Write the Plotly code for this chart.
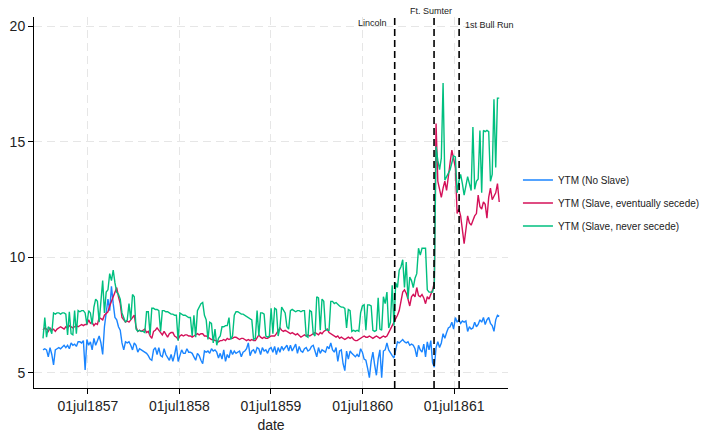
import pandas as pd
import plotly.graph_objects as go

# Weekly yields to maturity, Jan 1857 - Dec 1861
start_date = "1857-01-03"

ytm_no_slave = [
    6.0, 6.05, 6.0, 5.7, 6.1, 5.8, 5.35, 6.0, 6.05, 6.1,
    6.05, 6.15, 6.2, 6.1, 6.2, 6.05, 6.3, 6.2, 6.25, 6.15,
    6.35, 6.35, 6.3, 6.4, 5.13, 6.45, 6.2, 6.35, 6.0, 6.5,
    6.2, 6.4, 6.6, 6.3, 5.8, 7.0, 7.7, 8.2, 7.7, 8.75,
    8.0, 7.4, 7.3, 7.0, 6.85, 6.3, 6.0, 6.35, 6.3, 6.35,
    6.2, 6.0, 6.3, 6.2, 5.9, 6.05, 6.0, 5.95, 5.9, 5.85,
    5.75, 5.6, 5.55, 6.0, 6.1, 5.8, 6.1, 5.75, 5.7, 6.05,
    5.8, 5.7, 5.55, 5.8, 5.5, 5.8, 6.2, 5.5, 5.8, 6.0,
    5.85, 5.85, 6.05, 5.9, 5.9, 5.85, 5.7, 5.55, 5.85, 5.75,
    5.55, 5.4, 5.95, 5.9, 5.95, 5.85, 6.05, 5.95, 6.0, 5.9,
    5.65, 5.85, 5.6, 6.0, 5.5, 5.8, 5.65, 6.0, 5.8, 5.95,
    5.85, 5.9, 5.95, 5.7, 5.9, 5.95, 6.05, 6.3, 5.75, 5.95,
    6.0, 5.85, 6.1, 6.05, 5.8, 6.1, 5.95, 6.0, 5.85, 6.05,
    6.1, 5.9, 6.15, 5.8, 6.1, 5.9, 6.15, 6.0, 6.1, 6.2,
    5.95, 6.2, 5.95, 6.1, 6.25, 5.85, 6.15, 5.95, 5.9, 6.05,
    6.1, 5.95, 6.0, 6.15, 6.2, 5.95, 5.7, 6.1, 5.85, 6.0,
    5.95, 5.9, 6.15, 6.05, 6.3, 6.0, 5.9, 6.1, 5.5, 5.95,
    6.0, 5.4, 5.1, 5.95, 5.6, 5.95, 5.85, 5.75, 5.7, 5.8,
    5.7, 6.05, 5.9, 5.6, 5.55, 5.2, 4.8, 5.5, 5.9, 5.35,
    4.9, 5.6, 6.0, 4.8, 5.95, 6.0, 6.3, 6.0, 5.85, 5.75,
    5.65, 6.0, 6.35, 6.3, 6.4, 6.45, 6.35, 6.3, 6.35, 6.2,
    6.25, 6.2, 6.05, 5.7, 6.2, 6.0, 5.9, 6.25, 5.7, 6.35,
    6.0, 6.4, 5.45, 5.25, 6.1, 6.35, 6.1, 6.3, 6.7, 6.5,
    6.75, 6.95, 7.0, 7.2, 6.9, 7.4, 7.2, 7.3, 7.15, 7.25,
    7.2, 7.25, 6.8, 7.0, 6.9, 6.95, 7.2, 7.0, 7.1, 7.3,
    7.2, 7.4, 7.1, 7.3, 7.4, 7.15, 7.05, 6.8, 7.3, 7.5,
    7.45,
]

ytm_slave_secede = [
    6.85, 6.95, 6.9, 6.8, 6.95, 6.85, 6.9, 6.8, 6.9, 6.95,
    7.0, 6.95, 6.9, 7.0, 6.95, 7.05, 7.0, 6.95, 7.0, 7.05,
    7.0, 7.05, 7.1, 7.05, 7.1, 7.1, 7.3, 7.15, 7.2, 7.05,
    7.15, 7.1, 7.4, 7.35, 7.3, 7.5, 7.6, 7.65, 7.9, 8.15,
    8.3, 8.5, 8.7, 8.3, 8.0, 7.4, 7.3, 7.2, 7.25, 7.2,
    7.3, 7.4, 7.5, 7.0, 6.8, 6.85, 6.8, 6.85, 6.9, 6.75,
    6.8, 6.6, 6.5, 6.8, 6.85, 6.95, 6.85, 6.75, 6.65, 6.8,
    6.7, 6.55, 6.7, 6.75, 6.75, 6.6, 6.55, 6.45, 6.6, 6.65,
    6.6, 6.65, 6.65, 6.6, 6.6, 6.55, 6.6, 6.65, 6.7, 6.65,
    6.7, 6.7, 6.6, 6.6, 6.55, 6.5, 6.45, 6.45, 6.4, 6.4,
    6.35, 6.4, 6.4, 6.45, 6.4, 6.5, 6.45, 6.5, 6.5, 6.55,
    6.55, 6.5, 6.45, 6.5, 6.5, 6.45, 6.4, 6.45, 6.4, 6.45,
    6.4, 6.4, 6.55, 6.65, 6.55, 6.5, 6.55, 6.5, 6.5, 6.55,
    6.6, 6.6, 6.6, 6.7, 6.8, 6.95, 6.85, 6.8, 6.85, 6.8,
    6.75, 6.7, 6.75, 6.7, 6.65, 6.7, 6.6, 6.55, 6.6, 6.65,
    6.6, 6.65, 6.6, 6.65, 6.7, 6.75, 6.7, 6.65, 6.75, 6.7,
    6.8, 6.85, 6.9, 6.75, 6.7, 6.65, 6.6, 6.55, 6.6, 6.5,
    6.55, 6.5, 6.45, 6.5, 6.55, 6.5, 6.55, 6.45, 6.4, 6.4,
    6.45, 6.5, 6.55, 6.6, 6.55, 6.55, 6.6, 6.55, 6.5, 6.55,
    6.6, 6.55, 6.5, 6.55, 6.6, 6.55, 6.6, 6.75, 6.9, 7.0,
    7.15, 7.3, 7.5, 7.7, 8.1, 8.5, 8.6, 8.45, 8.2, 7.9,
    8.3, 8.4, 8.3, 8.7, 8.35, 8.3, 8.4, 8.25, 8.0, 8.3,
    8.2, 8.4, 8.6, 8.9, 15.8, 13.3, 13.0, 12.6, 13.0, 13.3,
    12.9, 13.6, 14.1, 14.65, 14.3, 13.9, 11.9, 12.1, 11.8, 11.3,
    10.6, 11.2, 11.8, 11.5, 11.4, 11.6, 11.8, 11.9, 12.7, 12.2,
    12.1, 12.4, 12.3, 11.7, 12.6, 13.0, 12.5, 12.65, 12.8, 13.2,
    12.4,
]

ytm_slave_never = [
    6.5, 7.4, 6.55, 7.0, 6.9, 6.7, 7.6, 7.55, 7.6, 7.6,
    7.55, 7.6, 7.6, 7.55, 6.65, 7.65, 6.7, 6.65, 7.7, 6.7,
    7.7, 7.65, 7.7, 7.7, 7.6, 7.1, 7.7, 7.6, 7.1, 7.85,
    8.2, 8.1, 7.2, 8.3, 9.0, 7.6, 8.5, 8.6, 9.3, 9.0,
    9.45, 8.9, 8.5, 8.4, 8.2, 7.6, 7.4, 7.2, 7.3, 8.0,
    7.3, 8.4, 8.3, 6.9, 6.8, 6.85, 6.8, 6.8, 6.75, 7.65,
    7.65, 6.65, 7.8, 7.8, 7.75, 7.75, 7.7, 6.8, 7.7, 7.7,
    7.65, 7.65, 7.6, 7.55, 7.55, 7.5, 7.5, 6.4, 7.6, 7.55,
    7.5, 7.5, 7.45, 7.4, 7.4, 6.6, 7.5, 6.55, 7.7, 7.85,
    8.0, 8.05, 7.5, 7.3, 6.45, 7.2, 7.15, 6.3, 6.9, 6.2,
    6.5, 6.6, 7.0, 7.0, 7.05, 7.05, 7.4, 6.45, 6.6, 7.5,
    7.65, 7.65, 7.6, 7.55, 7.55, 7.5, 7.45, 7.4, 7.35, 7.3,
    6.45, 6.5, 7.7, 6.6, 7.6, 7.6, 7.55, 6.6, 6.55, 6.6,
    7.8, 6.7, 7.8, 7.75, 6.6, 6.95, 7.85, 7.7, 7.6, 7.0,
    6.9, 7.7, 7.75, 7.7, 7.65, 7.7, 7.7, 7.65, 7.7, 7.7,
    6.6, 6.55, 7.7, 7.65, 6.7, 6.6, 8.3, 8.25, 6.85, 8.2,
    8.1, 6.9, 6.85, 6.85, 8.1, 8.1, 8.0, 8.05, 7.95, 7.9,
    7.85, 7.85, 7.8, 6.95, 7.75, 7.7, 6.8, 6.85, 6.8, 6.85,
    6.8, 7.6, 7.9, 7.95, 6.85, 7.95, 7.95, 7.9, 6.85, 6.8,
    6.85, 8.25, 6.9, 6.85, 8.3, 8.0, 8.5, 6.95, 7.2, 8.8,
    7.05, 8.9, 8.7, 9.45, 9.6, 9.9, 8.7, 9.8, 8.2, 9.15,
    9.0, 8.7, 9.1, 9.3, 10.4, 10.1, 10.4, 10.4, 10.4, 8.6,
    8.5, 8.5, 8.5, 8.8, 14.8, 14.2, 13.8, 14.3, 17.55, 13.35,
    13.5, 13.7, 13.8, 14.1, 14.4, 14.35, 12.8, 13.3, 13.6, 13.2,
    12.7, 13.1, 13.5, 13.2, 12.9, 15.65, 12.95, 13.3, 13.4, 15.5,
    12.8, 15.5, 15.45, 15.5, 15.45, 13.3, 13.6, 16.85, 13.9, 16.9,
    16.9,
]

series_names = [
    "YTM (No Slave)",
    "YTM (Slave, eventually secede)",
    "YTM (Slave, never secede)",
]
series_colors = ["#1a85ff", "#d41159", "#00bf7f"]

# Marked events
event_dates = ["1860-11-06", "1861-04-12", "1861-07-21"]
event_labels = ["Lincoln", "Ft. Sumter", "1st Bull Run"]

x_tick_dates = ["1857-07-01", "1858-07-01", "1859-07-01", "1860-07-01", "1861-07-01"]
x_tick_text = ["01jul1857", "01jul1858", "01jul1859", "01jul1860", "01jul1861"]
y_tick_vals = [5, 10, 15, 20]

dates = pd.date_range(start_date, periods=len(ytm_no_slave), freq="7D")

FONT = "Liberation Sans, Arial, Helvetica, sans-serif"

fig = go.Figure()
for name, color, vals in zip(series_names, series_colors,
                             [ytm_no_slave, ytm_slave_secede, ytm_slave_never]):
    fig.add_trace(go.Scatter(
        x=dates, y=vals, mode="lines", name=name, legendgroup=name,
        line=dict(color=color, width=1.4),
    ))

# Dashed vertical event lines with their labels
label_pos = [
    dict(xanchor="right", xshift=-6, y=0.984),
    dict(xanchor="center", xshift=-3, y=1.017),
    dict(xanchor="left", xshift=4, y=0.979),
]
for d, lab, pos in zip(event_dates, event_labels, label_pos):
    fig.add_shape(type="line", x0=d, x1=d, xref="x", y0=0, y1=1, yref="paper",
                  line=dict(color="black", width=1.6, dash="7px,4px"))
    fig.add_annotation(x=d, xref="x", y=pos["y"], yref="paper", text=lab,
                       showarrow=False, xanchor=pos["xanchor"], yanchor="middle",
                       xshift=pos["xshift"],
                       font=dict(family=FONT, size=9, color="#222222"))

fig.update_layout(
    width=702, height=433,
    margin=dict(l=34, r=194, t=17, b=45, autoexpand=False),
    plot_bgcolor="white", paper_bgcolor="white",
    font=dict(family=FONT, color="#222222"),
    showlegend=True,
    legend=dict(x=1.021, y=0.4987, xanchor="left", yanchor="middle",
                font=dict(family=FONT, size=10, color="#222222"),
                tracegroupgap=4, bgcolor="rgba(0,0,0,0)"),
)
fig.update_xaxes(
    range=["1856-11-28", "1862-02-01"],
    tickvals=x_tick_dates, ticktext=x_tick_text,
    tickfont=dict(size=14, color="#222222"),
    ticks="outside", ticklen=5, tickcolor="black",
    showline=True, linecolor="black", linewidth=1,
    showgrid=True, gridcolor="#e6e6e6", gridwidth=1, griddash="8px,5px",
    zeroline=False, automargin=False,
    title=dict(text="date", font=dict(size=14, color="#222222"), standoff=8),
)
fig.update_yaxes(
    range=[4.35, 20.41],
    tickvals=y_tick_vals,
    tickfont=dict(size=14, color="#222222"),
    ticks="outside", ticklen=5, tickcolor="black",
    showline=True, linecolor="black", linewidth=1,
    showgrid=True, gridcolor="#e6e6e6", gridwidth=1, griddash="8px,5px",
    zeroline=False, automargin=False,
)

fig.write_html("out.html")
